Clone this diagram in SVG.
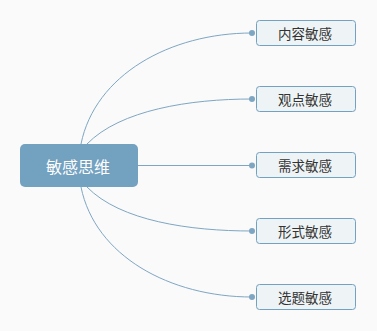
<svg xmlns="http://www.w3.org/2000/svg" width="377" height="331" viewBox="0 0 377 331">
<style>
.bg{fill:#fafafa}
.root rect{fill:#73a1c0}
.root text{fill:#ffffff;font-size:16px}
.child rect{fill:#eef3f6;stroke:#73a1c0;stroke-width:1}
.child text{fill:#333333;font-size:13.5px}
text{font-family:"Noto Sans CJK SC","Noto Sans",sans-serif;text-anchor:middle;dominant-baseline:central}
.conn path{fill:none;stroke:#7ea6c3;stroke-width:1}
.conn circle{fill:#7ea6c3}
</style>
<rect class="bg" x="0" y="0" width="377" height="331"/>
<g class="conn" id="connectors">
<path d="M81,144 C95,75 170,33 252,33"/>
<path d="M87,144 C120,110 190,99 252,99"/>
<path d="M138,165.5 L252,165.5"/>
<path d="M87,187 C120,221 190,231 252,231"/>
<path d="M81,187 C95,256 170,297 252,297"/>
<circle cx="252" cy="33" r="3"/>
<circle cx="252" cy="99" r="3"/>
<circle cx="252" cy="165.5" r="3"/>
<circle cx="252" cy="231" r="3"/>
<circle cx="252" cy="297" r="3"/>
</g>
<g class="root" id="root"><rect x="20" y="144" width="118" height="43" rx="5"/><text x="78" y="165.5">敏感思维</text></g>
<g class="child" id="n1"><rect x="256.5" y="20.5" width="99" height="25" rx="3"/><text x="305" y="33">内容敏感</text></g>
<g class="child" id="n2"><rect x="256.5" y="86.5" width="99" height="25" rx="3"/><text x="305" y="99">观点敏感</text></g>
<g class="child" id="n3"><rect x="256.5" y="152.5" width="99" height="25" rx="3"/><text x="305" y="165">需求敏感</text></g>
<g class="child" id="n4"><rect x="256.5" y="218.5" width="99" height="25" rx="3"/><text x="305" y="231">形式敏感</text></g>
<g class="child" id="n5"><rect x="256.5" y="284.5" width="99" height="25" rx="3"/><text x="305" y="297">选题敏感</text></g>
</svg>
